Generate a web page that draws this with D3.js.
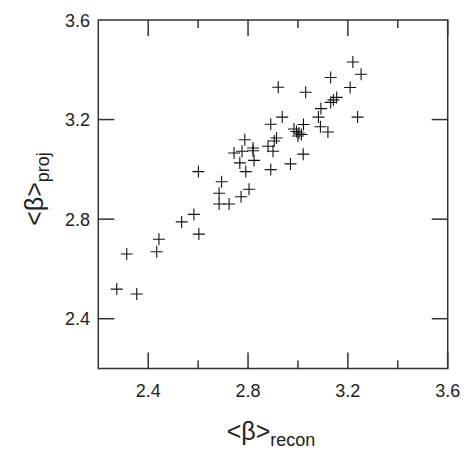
<!DOCTYPE html>
<html>
<head>
<meta charset="utf-8">
<script src="https://cdn.jsdelivr.net/npm/d3@7"></script>
<style>
  body { margin: 0; background: #fff; }
  text { font-family: "Liberation Sans", Arial, sans-serif; fill: #222; }
</style>
</head>
<body>
<svg id="chart" width="468" height="451"></svg>
<script>
// <β>recon values
const recon = [2.274, 2.354, 2.314, 2.434, 2.443, 2.534, 2.583, 2.603, 2.601, 2.694,
  2.684, 2.684, 2.724, 2.772, 2.804, 2.791, 2.767, 2.744, 2.776, 2.820,
  2.820, 2.824, 2.787, 2.891, 2.880, 2.900, 2.914, 2.891, 2.921, 2.937,
  2.970, 3.021, 2.984, 2.994, 3.004, 3.014, 3.000, 3.022, 3.031, 3.082,
  3.092, 3.090, 3.120, 3.131, 3.142, 3.155, 3.131, 3.209, 3.220, 3.253,
  3.239, 2.905]
// <β>proj values
const proj = [2.519, 2.499, 2.660, 2.669, 2.719, 2.789, 2.819, 2.740, 2.991, 2.950,
  2.904, 2.861, 2.861, 2.890, 2.920, 2.991, 3.026, 3.066, 3.073, 3.086,
  3.075, 3.036, 3.119, 2.999, 3.093, 3.073, 3.126, 3.181, 3.330, 3.210,
  3.022, 3.061, 3.162, 3.152, 3.146, 3.140, 3.134, 3.180, 3.310, 3.210,
  3.244, 3.171, 3.150, 3.269, 3.279, 3.289, 3.369, 3.329, 3.431, 3.382,
  3.210, 3.114]

const xMajor = [2.4, 2.8, 3.2, 3.6]
const xMinor = [2.6, 3.0, 3.4]
const yMajor = [2.4, 2.8, 3.2]
const yLabels = [2.4, 2.8, 3.2, 3.6]

const svg = d3.select('#chart')
const pL = 98.3, pR = 447.7, pT = 20, pB = 368.5

const x = d3.scaleLinear().domain([2.2, 3.6]).range([pL, pR])
const y = d3.scaleLinear().domain([2.2, 3.6]).range([pB, pT])

// frame
svg.append('rect')
  .attr('x', pL).attr('y', pT)
  .attr('width', pR - pL).attr('height', pB - pT)
  .attr('fill', 'none').attr('stroke', '#333').attr('stroke-width', 1.5)

// tick marks (inward)
const ticks = svg.append('g').attr('stroke', '#333').attr('stroke-width', 1.5)
xMajor.concat(xMinor).forEach(v => {
  const len = xMajor.includes(v) ? 16 : 8
  ticks.append('line').attr('x1', x(v)).attr('x2', x(v)).attr('y1', pB).attr('y2', pB - len)
  ticks.append('line').attr('x1', x(v)).attr('x2', x(v)).attr('y1', pT).attr('y2', pT + len)
})
yMajor.forEach(v => {
  ticks.append('line').attr('y1', y(v)).attr('y2', y(v)).attr('x1', pL).attr('x2', pL + 16)
  ticks.append('line').attr('y1', y(v)).attr('y2', y(v)).attr('x1', pR).attr('x2', pR - 16)
})

// tick labels
svg.selectAll('text.xl')
  .data(xMajor)
  .enter()
  .append('text')
  .attr('class', 'xl')
  .attr('x', d => x(d))
  .attr('y', 397)
  .attr('text-anchor', 'middle')
  .style('font-size', '18px')
  .text(d => d.toFixed(1))

svg.selectAll('text.yl')
  .data(yLabels)
  .enter()
  .append('text')
  .attr('class', 'yl')
  .attr('x', 90)
  .attr('y', d => y(d) + 6.5)
  .attr('text-anchor', 'end')
  .style('font-size', '18px')
  .text(d => d.toFixed(1))

// axis titles
const xt = svg.append('text')
  .attr('x', 271).attr('y', 440)
  .attr('text-anchor', 'middle')
xt.append('tspan').style('font-size', '25px').text('<β>')
xt.append('tspan').style('font-size', '18px').attr('dy', 6).text('recon')

const yt = svg.append('text')
  .attr('transform', 'translate(43,189) rotate(-90)')
  .attr('text-anchor', 'middle')
yt.append('tspan').style('font-size', '25px').text('<β>')
yt.append('tspan').style('font-size', '18px').attr('dy', 6).text('proj')

// points as + markers
const pts = recon.map((r, i) => ({ r: r, p: proj[i] }))
svg.append('g')
  .selectAll('path.pt')
  .data(pts)
  .enter()
  .append('path')
  .classed('pt', true)
  .attr('d', d => `M${x(d.r) - 6},${y(d.p)}h12M${x(d.r)},${y(d.p) - 6}v12`)
  .attr('stroke', '#111')
  .attr('stroke-width', 1.1)
  .attr('fill', 'none')
</script>
</body>
</html>
